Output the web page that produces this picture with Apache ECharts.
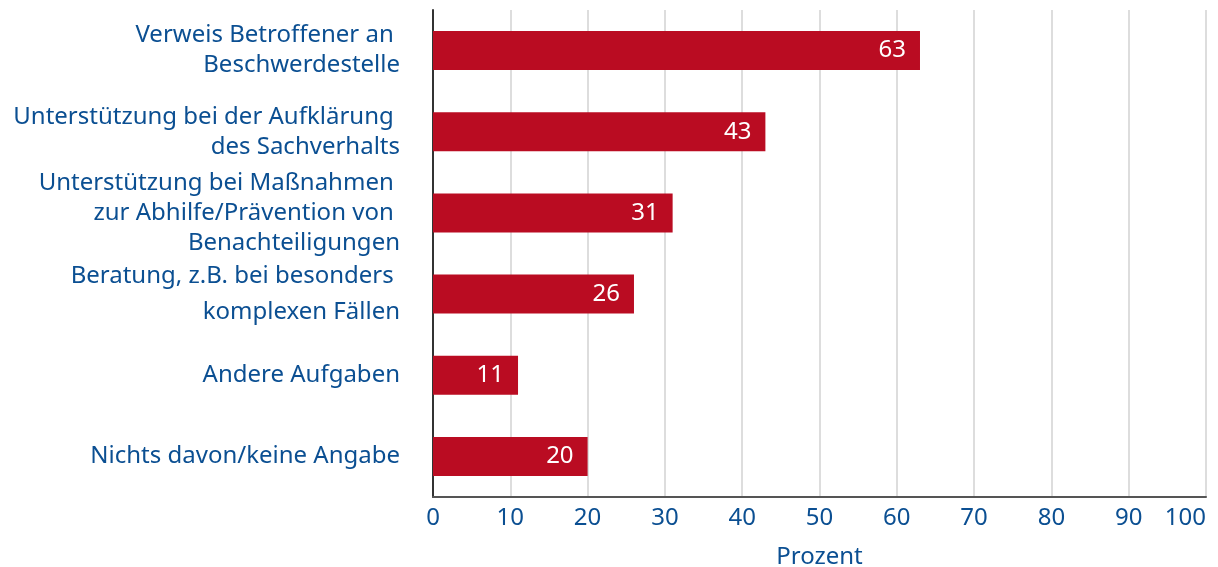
<!doctype html>
<meta charset="utf-8">
<style>
  html, body {
    margin: 0;
    height: 100%;
    background: #fff;
  }

  #chart {
    width: 1218px;
    height: 567px;
  }
</style>
<script src="https://cdn.jsdelivr.net/npm/echarts@6.0.0/dist/echarts.min.js"></script>

<div id="chart"></div>

<script>
  const categories = [
    'Verweis Betroffener an \nBeschwerdestelle',
    'Unterstützung bei der Aufklärung \ndes Sachverhalts',
    'Unterstützung bei Maßnahmen \nzur Abhilfe/Prävention von \nBenachteiligungen',
    'Beratung, z.B. bei besonders \nkomplexen Fällen',
    'Andere Aufgaben',
    'Nichts davon/keine Angabe'
  ]
  const values = [63, 43, 31, 26, 11, 20]
  const xTicks = [0, 10, 20, 30, 40, 50, 60, 70, 80, 90, 100]

  const blue = '#0b4f92'
  const font = '"Noto Sans", "Open Sans", sans-serif'
  let chart = echarts.init(document.getElementById('chart'))

  chart.setOption({
    animation: false,
    grid: {
      left: 433,
      right: 12,
      top: 10,
      bottom: 70,
      outerBoundsMode: 'none',
    },
    xAxis: {
      type: 'value',
      min: xTicks[0],
      max: xTicks[xTicks.length - 1],
      interval: 10,
      name: 'Prozent',
      nameLocation: 'middle',
      nameGap: 48,
      nameTextStyle: {
        color: blue,
        fontSize: 24,
        fontFamily: font,
      },
      axisLine: {
        show: true,
        lineStyle: { color: '#555', width: 2 },
      },
      axisTick: { show: false },
      axisLabel: {
        color: blue,
        fontSize: 24,
        fontFamily: font,
        margin: 9,
        alignMaxLabel: 'right',
      },
      splitLine: {
        lineStyle: { color: '#d2d2d2', width: 1.5 },
      },
    },
    yAxis: {
      type: 'category',
      inverse: true,
      data: categories,
      axisLine: {
        show: true,
        lineStyle: { color: '#333', width: 2 },
      },
      axisTick: { show: false },
      axisLabel: {
        color: blue,
        fontSize: 24,
        fontFamily: font,
        lineHeight: 30,
        margin: 33,
        align: 'right',
        formatter: function (val, idx) {
          // the "Beratung" label has a wider gap between its lines
          let style = idx === 3 ? 'wide' : 't'
          return val.split('\n').map(s => '{' + style + '|' + s + '}').join('\n')
        },
        rich: {
          t: { color: blue, fontSize: 24, fontFamily: font, lineHeight: 30 },
          wide: { color: blue, fontSize: 24, fontFamily: font, lineHeight: 36 },
        },
      },
    },
    series: [{
      type: 'bar',
      data: values,
      barWidth: '48%',
      itemStyle: { color: '#ba0c22' },
      label: {
        show: true,
        position: 'insideRight',
        distance: 14,
        color: '#fff',
        fontSize: 24,
        fontFamily: font,
      },
    }],
  })
</script>
